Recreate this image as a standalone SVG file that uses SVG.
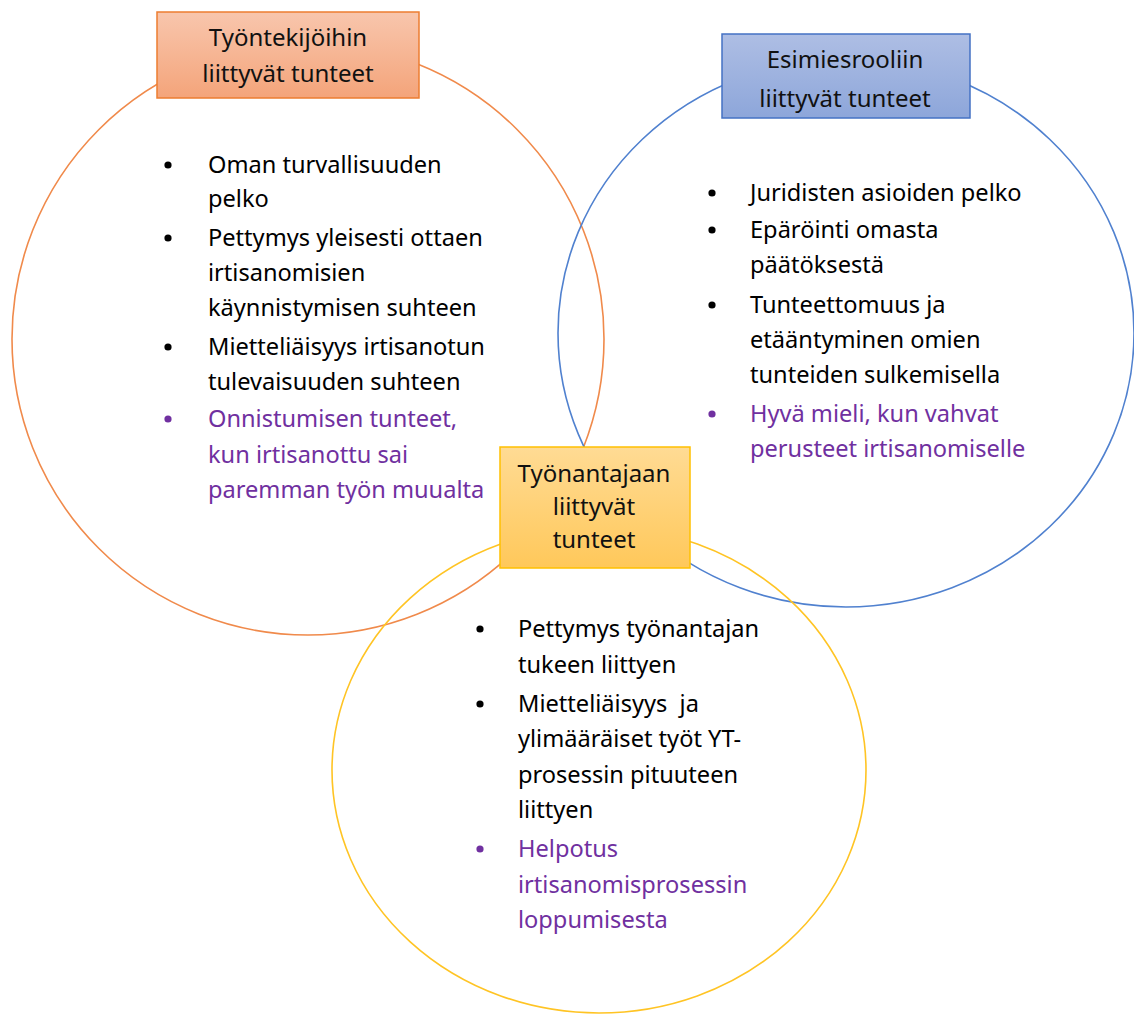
<svg xmlns="http://www.w3.org/2000/svg" width="1134" height="1014" viewBox="0 0 1134 1014">
  <style>
    .ring { fill: none; stroke-width: 1.6; }
    .lbl { font-family: "Noto Sans", "Open Sans", sans-serif; font-size: 24px; fill: #111; text-anchor: middle; }
    .txt { font-family: "Noto Sans", "Open Sans", sans-serif; font-size: 23.6px; fill: #000; }
    .pur { fill: #7030A0; }
    .dot { fill: #000; }
    .dotp { fill: #7030A0; }
  </style>
  <defs>
    <linearGradient id="gOrange" x1="0" y1="0" x2="0" y2="1">
      <stop offset="0" stop-color="#F8C6AD"/>
      <stop offset="1" stop-color="#F4A47A"/>
    </linearGradient>
    <linearGradient id="gBlue" x1="0" y1="0" x2="0" y2="1">
      <stop offset="0" stop-color="#AEBEE4"/>
      <stop offset="1" stop-color="#8DA6DA"/>
    </linearGradient>
    <linearGradient id="gYellow" x1="0" y1="0" x2="0" y2="1">
      <stop offset="0" stop-color="#FFDB94"/>
      <stop offset="1" stop-color="#FFC85A"/>
    </linearGradient>
  </defs>

  <rect width="1134" height="1014" fill="#ffffff"/>

  <!-- three overlapping sets -->
  <g id="rings">
    <ellipse class="ring" cx="308" cy="339" rx="296" ry="296" stroke="#F08A4B"/>
    <ellipse class="ring" cx="846" cy="333" rx="288" ry="274" stroke="#5081CF"/>
    <ellipse class="ring" cx="599" cy="770" rx="267" ry="243" stroke="#FFC424"/>
  </g>

  <g id="connectors"></g>

  <!-- employee-related feelings -->
  <g id="node-employees">
    <rect x="157" y="12" width="262" height="86" fill="url(#gOrange)" stroke="#ED7D31" stroke-width="1.5"/>
    <text class="lbl" x="288" y="46">Työntekijöihin</text>
    <text class="lbl" x="288" y="82">liittyvät tunteet</text>
  </g>
  <g id="list-employees">
    <circle class="dot" cx="168" cy="165" r="3.6"/>
    <text class="txt" x="208" y="173">Oman turvallisuuden</text>
    <text class="txt" x="208" y="207">pelko</text>
    <circle class="dot" cx="168" cy="238" r="3.6"/>
    <text class="txt" x="208" y="246">Pettymys yleisesti ottaen</text>
    <text class="txt" x="208" y="281">irtisanomisien</text>
    <text class="txt" x="208" y="316">käynnistymisen suhteen</text>
    <circle class="dot" cx="168" cy="347" r="3.6"/>
    <text class="txt" x="208" y="355">Mietteliäisyys irtisanotun</text>
    <text class="txt" x="208" y="390">tulevaisuuden suhteen</text>
    <circle class="dotp" cx="168" cy="419" r="3.6"/>
    <text class="txt pur" x="208" y="427">Onnistumisen tunteet,</text>
    <text class="txt pur" x="208" y="463">kun irtisanottu sai</text>
    <text class="txt pur" x="208" y="498">paremman työn muualta</text>
  </g>

  <!-- supervisor-role feelings -->
  <g id="node-supervisor">
    <rect x="722" y="34" width="248" height="84" fill="url(#gBlue)" stroke="#4472C4" stroke-width="1.5"/>
    <text class="lbl" x="845" y="68">Esimiesrooliin</text>
    <text class="lbl" x="845" y="107">liittyvät tunteet</text>
  </g>
  <g id="list-supervisor">
    <circle class="dot" cx="712" cy="193" r="3.6"/>
    <text class="txt" x="750" y="201">Juridisten asioiden pelko</text>
    <circle class="dot" cx="712" cy="230" r="3.6"/>
    <text class="txt" x="750" y="238">Epäröinti omasta</text>
    <text class="txt" x="750" y="273">päätöksestä</text>
    <circle class="dot" cx="712" cy="305" r="3.6"/>
    <text class="txt" x="750" y="313">Tunteettomuus ja</text>
    <text class="txt" x="750" y="348">etääntyminen omien</text>
    <text class="txt" x="750" y="383">tunteiden sulkemisella</text>
    <circle class="dotp" cx="712" cy="414" r="3.6"/>
    <text class="txt pur" x="750" y="422">Hyvä mieli, kun vahvat</text>
    <text class="txt pur" x="750" y="457">perusteet irtisanomiselle</text>
  </g>

  <!-- employer-related feelings -->
  <g id="node-employer">
    <rect x="500" y="447" width="190" height="121" fill="url(#gYellow)" stroke="#FFC000" stroke-width="1.5"/>
    <text class="lbl" x="594" y="482">Työnantajaan</text>
    <text class="lbl" x="594" y="515">liittyvät</text>
    <text class="lbl" x="594" y="548">tunteet</text>
  </g>
  <g id="list-employer">
    <circle class="dot" cx="480" cy="629" r="3.6"/>
    <text class="txt" x="518" y="637">Pettymys työnantajan</text>
    <text class="txt" x="518" y="673">tukeen liittyen</text>
    <circle class="dot" cx="480" cy="704" r="3.6"/>
    <text class="txt" x="518" y="712" xml:space="preserve">Mietteliäisyys  ja</text>
    <text class="txt" x="518" y="747">ylimääräiset työt YT-</text>
    <text class="txt" x="518" y="783">prosessin pituuteen</text>
    <text class="txt" x="518" y="818">liittyen</text>
    <circle class="dotp" cx="480" cy="849" r="3.6"/>
    <text class="txt pur" x="518" y="857">Helpotus</text>
    <text class="txt pur" x="518" y="893">irtisanomisprosessin</text>
    <text class="txt pur" x="518" y="928">loppumisesta</text>
  </g>
</svg>
